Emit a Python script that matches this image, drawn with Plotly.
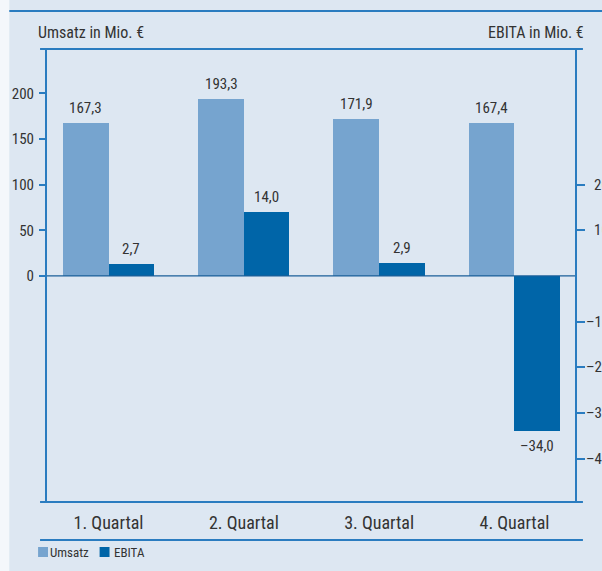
import plotly.graph_objects as go

# ---- data ----
quarters = ["1. Quartal", "2. Quartal", "3. Quartal", "4. Quartal"]
umsatz = [167.3, 193.3, 171.9, 167.4]
ebita = [2.7, 14.0, 2.9, -34.0]
left_ticks = [0, 50, 100, 150, 200]
right_ticks = [20, 10, -10, -20, -30, -40]

# ---- style ----
BG = "#dde7f2"
C_UMS = "#76a4cf"
C_EBI = "#0065a8"
LINE = "#2a7cc0"
TXT = "#333333"
FONT = "Liberation Sans Narrow, Arial Narrow, Roboto Condensed, Liberation Sans, sans-serif"

W, H = 602, 571
ML, MR, MT, MB = 43, 27, 49, 69
PW, PH = W - ML - MR, H - MT - MB

def px_x(p):
    return (p - ML) / PW

def px_y(p):
    return (H - MB - p) / PH

def fmt(v):
    s = f"{abs(v):.1f}".replace(".", ",")
    return ("–" + s) if v < 0 else s

def fmt_int(v):
    return ("–" + str(abs(v))) if v < 0 else str(v)

pos = list(range(len(quarters)))
bw = 0.3374

fig = go.Figure()
fig.add_trace(go.Bar(x=pos, y=umsatz, width=bw, offset=-bw, marker_color=C_UMS,
                     marker_line_width=0, name="Umsatz", yaxis="y", showlegend=False))
fig.add_trace(go.Bar(x=pos, y=ebita, width=bw, offset=0, marker_color=C_EBI,
                     marker_line_width=0, name="EBITA", yaxis="y2", showlegend=False))

annotations = []
for i, v in enumerate(umsatz):
    annotations.append(dict(x=i - bw / 2, y=v, xref="x", yref="y", text=fmt(v),
                            showarrow=False, yanchor="bottom", yshift=4,
                            font=dict(size=15, color=TXT, family=FONT)))
for i, v in enumerate(ebita):
    annotations.append(dict(x=i + bw / 2, y=v, xref="x", yref="y2", text=fmt(v),
                            showarrow=False, yanchor="bottom" if v >= 0 else "top",
                            yshift=4 if v >= 0 else -4,
                            font=dict(size=15, color=TXT, family=FONT)))
# right-axis labels are right-aligned past the chart edge (cut off as in the original)
for t in right_ticks:
    annotations.append(dict(x=px_x(611), y=t, xref="paper", yref="y2", text=fmt_int(t),
                            showarrow=False, xanchor="right", yanchor="middle",
                            font=dict(size=15, color=TXT, family=FONT)))
# headings
annotations.append(dict(x=px_x(32), y=px_y(32), xref="paper", yref="paper",
                        text="Umsatz in Mio. €", showarrow=False, xanchor="left",
                        yanchor="middle", font=dict(size=16, color=TXT, family=FONT)))
annotations.append(dict(x=px_x(586), y=px_y(32), xref="paper", yref="paper",
                        text="EBITA in Mio. €", showarrow=False, xanchor="right",
                        yanchor="middle", font=dict(size=16, color=TXT, family=FONT)))
# legend text
annotations.append(dict(x=px_x(44), y=px_y(552), xref="paper", yref="paper",
                        text="Umsatz", showarrow=False, xanchor="left", yanchor="middle",
                        font=dict(size=13, color=TXT, family=FONT)))
annotations.append(dict(x=px_x(108), y=px_y(552), xref="paper", yref="paper",
                        text="EBITA", showarrow=False, xanchor="left", yanchor="middle",
                        font=dict(size=13, color=TXT, family=FONT)))

shapes = [
    dict(type="rect", xref="paper", yref="paper", x0=px_x(-5), x1=px_x(5),
         y0=px_y(-5), y1=px_y(H + 5), fillcolor="#f4f7fb", line_width=0, layer="below"),
    dict(type="line", xref="paper", yref="paper", x0=px_x(5), x1=px_x(610),
         y0=px_y(11), y1=px_y(11), line=dict(color=LINE, width=2)),
    dict(type="line", xref="paper", yref="paper", x0=px_x(36), x1=px_x(583),
         y0=1, y1=1, line=dict(color=LINE, width=2)),
    dict(type="line", xref="paper", yref="paper", x0=px_x(36), x1=px_x(583),
         y0=0, y1=0, line=dict(color=LINE, width=2)),
    dict(type="line", xref="paper", yref="paper", x0=px_x(36), x1=px_x(583),
         y0=px_y(540), y1=px_y(540), line=dict(color=LINE, width=2)),
    dict(type="line", xref="paper", yref="y", x0=0, x1=1, y0=0, y1=0,
         line=dict(color="#1a5f99", width=1.2)),
    dict(type="rect", xref="paper", yref="paper", x0=px_x(34), x1=px_x(44),
         y0=px_y(557), y1=px_y(547), fillcolor=C_UMS, line_width=0),
    dict(type="rect", xref="paper", yref="paper", x0=px_x(96), x1=px_x(106),
         y0=px_y(557), y1=px_y(547), fillcolor=C_EBI, line_width=0),
]

fig.update_layout(
    width=W, height=H,
    margin=dict(l=ML, r=MR, t=MT, b=MB, pad=0),
    paper_bgcolor=BG, plot_bgcolor=BG,
    font=dict(family=FONT, color=TXT, size=15),
    bargap=0, barmode="overlay",
    xaxis=dict(range=[-0.4548, 3.4475], tickvals=pos, ticktext=quarters,
               showgrid=False, zeroline=False, showline=False, ticks="",
               tickfont=dict(size=18, color=TXT), ticklabelstandoff=8,
               fixedrange=True),
    yaxis=dict(range=[-247.5, 248.5], tickvals=left_ticks, showgrid=False,
               zeroline=False, showline=True, linecolor=LINE, linewidth=2,
               ticks="outside", ticklen=6, tickcolor=LINE, tickwidth=2,
               tickfont=dict(size=15, color=TXT), ticklabelstandoff=2),
    yaxis2=dict(range=[-49.5, 49.7], overlaying="y", side="right",
                tickvals=right_ticks, showticklabels=False, showgrid=False,
                zeroline=False, showline=True, linecolor=LINE, linewidth=2,
                ticks="outside", ticklen=8, tickcolor=LINE, tickwidth=2),
    annotations=annotations,
    shapes=shapes,
    showlegend=False,
)

fig.write_html("out.html")
